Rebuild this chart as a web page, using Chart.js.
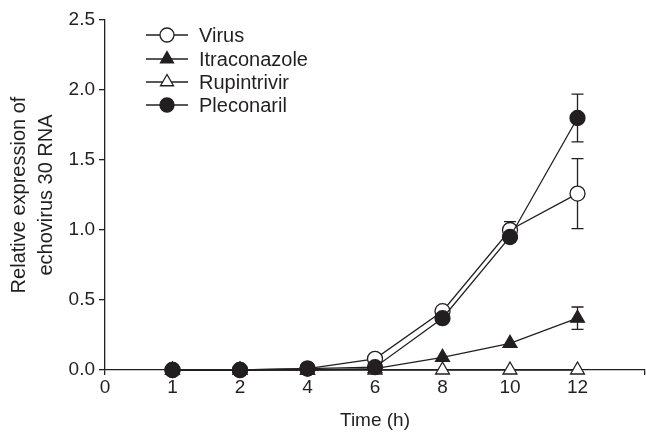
<!DOCTYPE html>
<html>
<head>
<meta charset="utf-8">
<script src="https://cdn.jsdelivr.net/npm/chart.js@4/dist/chart.umd.min.js"></script>
<style>
  html, body { margin: 0; padding: 0; background: #fff; }
  #wrap { width: 646px; height: 437px; }
</style>
</head>
<body>
<div id="wrap"><canvas id="grafico" width="646" height="437"></canvas></div>
<script>
// eje x categórico: los tiempos quedan equiespaciados como en la figura
const etiquetasX = ['0', '1', '2', '4', '6', '8', '10', '12', ''];
const tiempos = ['1', '2', '4', '6', '8', '10', '12'];

const virus        = [0, 0, 0.01, 0.08, 0.42, 1.00, 1.26];
const itraconazol  = [0, 0, 0, 0.01, 0.09, 0.19, 0.37];
const rupintrivir  = [0, 0, 0, 0, 0, 0, 0];
const pleconaril   = [0, 0, 0.01, 0.02, 0.37, 0.95, 1.80];

const errVirus       = [0, 0, 0, 0, 0, 0.06, 0.25];
const errItraconazol = [0, 0, 0, 0, 0, 0, 0.08];
const errRupintrivir = [0, 0, 0, 0, 0, 0, 0];
const errPleconaril  = [0, 0, 0, 0, 0, 0, 0.17];

const ticksY = [0, 0.5, 1.0, 1.5, 2.0, 2.5];

const negro = '#231f20';
const fuente = 'Arial, "Liberation Sans", Helvetica, sans-serif';

function serie(nombre, valores, errores, estilo, relleno, orden) {
    return {
        label: nombre,
        data: tiempos.map((t, i) => ({ x: t, y: valores[i] })),
        errores: errores,
        borderColor: negro,
        borderWidth: 1.3,
        pointStyle: estilo,
        pointRadius: estilo === 'triangle' ? 8 : 7.5,
        pointBorderWidth: 1.3,
        pointBorderColor: negro,
        pointBackgroundColor: relleno,
        tension: 0,
        clip: false,
        order: orden,
    };
}

// barras de error dibujadas con las escalas del gráfico
const barrasError = {
    id: 'barrasError',
    beforeDatasetsDraw(chart) {
        const { ctx, scales: { x, y } } = chart;
        ctx.save();
        ctx.strokeStyle = negro;
        ctx.lineWidth = 1.3;
        chart.data.datasets.forEach(ds => {
            ds.data.forEach((p, i) => {
                const e = ds.errores[i];
                if (!e) return;
                const px = x.getPixelForValue(etiquetasX.indexOf(p.x));
                const arriba = y.getPixelForValue(p.y + e);
                const abajo = y.getPixelForValue(p.y - e);
                ctx.beginPath();
                ctx.moveTo(px, arriba); ctx.lineTo(px, abajo);
                ctx.moveTo(px - 6, arriba); ctx.lineTo(px + 6, arriba);
                ctx.moveTo(px - 6, abajo); ctx.lineTo(px + 6, abajo);
                ctx.stroke();
            });
        });
        ctx.restore();
    },
};

// leyenda dentro del área: línea con el marcador en medio
const leyenda = {
    id: 'leyenda',
    afterDraw(chart) {
        const { ctx } = chart;
        const filas = [35, 59, 82, 105];
        ctx.save();
        chart.data.datasets.forEach((ds, i) => {
            const yy = filas[i];
            ctx.strokeStyle = negro;
            ctx.lineWidth = 1.3;
            ctx.beginPath();
            ctx.moveTo(146, yy); ctx.lineTo(188, yy);
            ctx.stroke();
            ctx.fillStyle = ds.pointBackgroundColor;
            Chart.helpers.drawPoint(ctx, {
                pointStyle: ds.pointStyle,
                radius: ds.pointStyle === 'triangle' ? 7.5 : 7,
                borderWidth: 1.3,
                rotation: 0,
            }, 167, yy);
            ctx.fillStyle = negro;
            ctx.font = '20px ' + fuente;
            ctx.textBaseline = 'middle';
            ctx.fillText(ds.label, 199, yy + 1);
        });
        ctx.restore();
    },
};

new Chart(document.getElementById('grafico'), {
    type: 'line',
    data: {
        labels: etiquetasX,
        datasets: [
            serie('Virus', virus, errVirus, 'circle', '#ffffff', 3),
            serie('Itraconazole', itraconazol, errItraconazol, 'triangle', negro, 2),
            serie('Rupintrivir', rupintrivir, errRupintrivir, 'triangle', '#ffffff', 1),
            serie('Pleconaril', pleconaril, errPleconaril, 'circle', negro, 0),
        ],
    },
    options: {
        responsive: false,
        animation: false,
        layout: { autoPadding: false, padding: { top: 20, right: 1, left: 0, bottom: 0 } },
        plugins: {
            legend: { display: false },
            tooltip: { enabled: false },
        },
        scales: {
            x: {
                type: 'category',
                offset: false,
                grid: {
                    drawOnChartArea: false,
                    tickLength: 5,
                    color: c => (c.index === 0 || c.index === etiquetasX.length - 1) ? negro : 'rgba(0,0,0,0)',
                    lineWidth: 1.3,
                },
                border: { color: negro, width: 1.3 },
                ticks: {
                    color: negro,
                    font: { size: 19, family: fuente },
                    padding: 1,
                    maxRotation: 0,
                    autoSkip: false,
                },
                title: {
                    display: true,
                    text: 'Time (h)',
                    color: negro,
                    font: { size: 19, family: fuente },
                    padding: { top: 0, bottom: 5 },
                },
                afterFit: s => { s.height = 67; },
            },
            y: {
                min: 0,
                max: 2.5,
                afterBuildTicks: s => { s.ticks = ticksY.map(v => ({ value: v })); },
                grid: {
                    drawOnChartArea: false,
                    tickLength: 6,
                    color: negro,
                    lineWidth: 1.3,
                },
                border: { color: negro, width: 1.3 },
                ticks: {
                    color: negro,
                    font: { size: 19, family: fuente },
                    padding: 4,
                    callback: v => v.toFixed(1),
                },
                title: {
                    display: true,
                    text: ['Relative expression of', 'echovirus 30 RNA'],
                    color: negro,
                    font: { size: 20, family: fuente, lineHeight: 1.35 },
                    padding: { top: 6, bottom: 0 },
                },
                afterFit: s => { s.width = 105; },
            },
        },
    },
    plugins: [barrasError, leyenda],
});
</script>
</body>
</html>
